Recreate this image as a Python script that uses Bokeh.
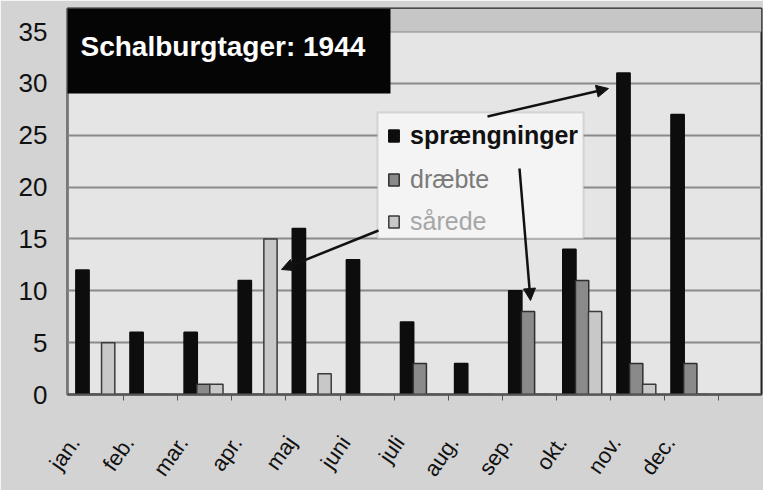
from bokeh.plotting import figure
from bokeh.models import (Range1d, FixedTicker, SingleIntervalTicker, Legend, LegendItem,
                          BoxAnnotation, Label, Arrow, NormalHead, ColumnDataSource)
from bokeh.embed import file_html
from bokeh.resources import INLINE

# ---- data ----
months = ["jan.", "feb.", "mar.", "apr.", "maj", "juni", "juli", "aug.", "sep.", "okt.", "nov.", "dec."]
spraengninger = [12, 6, 6, 11, 16, 13, 7, 3, 10, 14, 31, 27]
draebte = [0, 0, 1, 0, 0, 0, 3, 0, 8, 11, 3, 3]
saarede = [5, 0, 1, 15, 2, 0, 0, 0, 0, 8, 1, 0]
series_names = ["sprængninger", "dræbte", "sårede"]
title_text = "Schalburgtager: 1944"

# ---- page-pixel helpers (layout only) ----
def X(px):
    return (px - 69) / 54.1

def Y(py):
    return (394 - py) / 10.37

FONT = "Liberation Sans"

p = figure(width=763, height=490, output_backend="svg", toolbar_location=None,
           x_range=Range1d(X(67), X(761)), y_range=Range1d(0, Y(8)),
           min_border_left=67, min_border_right=2, min_border_top=8, min_border_bottom=96)

p.background_fill_color = "#e5e5e5"
p.border_fill_color = "#d3d3d3"
p.outline_line_color = "#222222"
p.outline_line_width = 2

# top strip above the 35 line
p.add_layout(BoxAnnotation(bottom=35, fill_color="#c6c6c6", fill_alpha=1,
                           line_color=None, level="underlay"))

idx = list(range(len(months)))
offs = [0.24, 0.475, 0.715]
colors = [("#0d0d0d", "#0d0d0d"), ("#8a8a8a", "#2e2e2e"), ("#c8c8c8", "#3a3a3a")]
renderers = []
for k, vals in enumerate([spraengninger, draebte, saarede]):
    src = ColumnDataSource(dict(x=[i + offs[k] for i in idx], top=vals))
    r = p.vbar(x="x", top="top", width=0.245, bottom=0, source=src,
               fill_color=colors[k][0], line_color=colors[k][1], line_width=1.5)
    renderers.append(r)

# axes
centers = [i + 0.1 for i in idx]
bounds = [i for i in range(1, len(months) + 1)]
p.xaxis.ticker = FixedTicker(ticks=centers, minor_ticks=bounds)
p.xaxis.major_label_overrides = {c: m for c, m in zip(centers, months)}
p.xaxis.major_label_orientation = 0.96
p.xaxis.major_label_standoff = 38
p.xaxis.major_label_text_font = FONT
p.xaxis.major_label_text_font_size = "22px"
p.xaxis.major_label_text_color = "#111111"
p.xaxis.major_tick_line_color = None
p.xaxis.minor_tick_line_color = "#555555"
p.xaxis.minor_tick_out = 6
p.xaxis.minor_tick_in = 0
p.xaxis.axis_line_color = "#555555"
p.xaxis.axis_line_width = 2

p.yaxis.ticker = SingleIntervalTicker(interval=5)
p.yaxis.major_label_text_font = FONT
p.yaxis.major_label_text_font_size = "26px"
p.yaxis.major_label_text_color = "#111111"
p.yaxis.major_tick_line_color = None
p.yaxis.minor_tick_line_color = None
p.yaxis.major_label_standoff = 14
p.yaxis.axis_line_color = "#777777"

p.xgrid.grid_line_color = None
p.ygrid.grid_line_color = "#8a8a8a"
p.ygrid.grid_line_width = 2

# title box
p.add_layout(BoxAnnotation(left=X(67) - 1, right=X(390), bottom=Y(93),
                           fill_color="#050505", fill_alpha=1, line_color=None))
p.add_layout(Label(x=X(80), y=Y(46), text=title_text, text_color="white",
                   text_font=FONT, text_font_size="28px", text_font_style="bold",
                   text_baseline="alphabetic"))

# legend box
p.add_layout(BoxAnnotation(left=X(377), right=X(583), top=Y(112), bottom=Y(238),
                           fill_color="#f4f4f4", fill_alpha=1,
                           line_color="#9a9a9a", line_width=2))

leg_styles = [("#111111", "bold", 244), ("#7a7a7a", "normal", 200), ("#a6a6a6", "normal", 158)]
for k, (tc, fs, vy) in enumerate(leg_styles):
    lg = Legend(items=[LegendItem(label=series_names[k], renderers=[renderers[k]])],
                location=(320, vy), background_fill_alpha=0, border_line_color=None,
                label_text_font=FONT, label_text_font_size="25px",
                label_text_font_style=fs, label_text_color=tc,
                glyph_width=13, glyph_height=15, label_standoff=10,
                padding=0, margin=0, spacing=0)
    p.add_layout(lg, "center")

# arrows
for (x0, y0, x1, y1) in [(487, 116, 608, 88), (378, 230, 281, 269), (519, 168, 530, 300)]:
    p.add_layout(Arrow(x_start=X(x0), y_start=Y(y0), x_end=X(x1), y_end=Y(y1),
                       line_color="#111111", line_width=2.5,
                       end=NormalHead(size=12, fill_color="#111111", line_color="#111111")))

open("out.html", "w").write(file_html(p, INLINE))
